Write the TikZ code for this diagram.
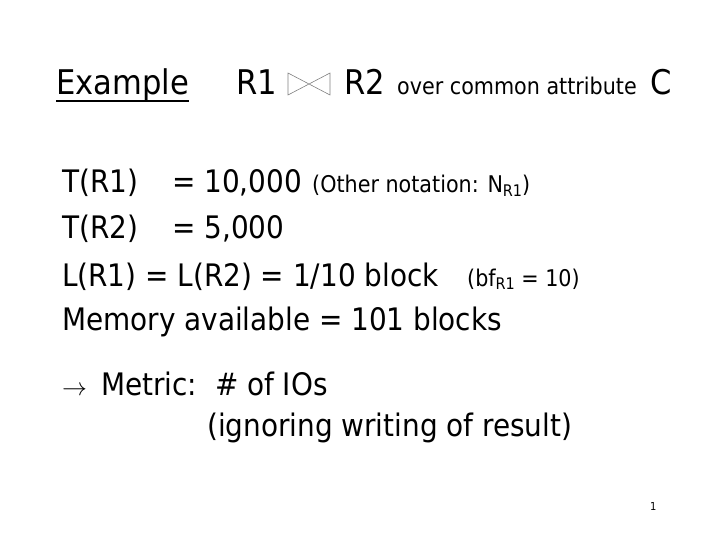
\documentclass[tikz,border=0pt]{standalone}
\usepackage{fontspec}
\setmainfont{DejaVu Sans Condensed}
\usetikzlibrary{calc}
\newcommand{\mysub}[1]{\raisebox{-0.28ex}{\fontsize{16}{16}\selectfont #1}}
\begin{document}
\begin{tikzpicture}[x=1pt,y=-1pt,
  body/.style={anchor=base west,inner sep=0pt,font=\fontsize{31}{31}\selectfont},
  small/.style={anchor=base west,inner sep=0pt,font=\fontsize{23}{23}\selectfont},
  title/.style={anchor=base west,inner sep=0pt,font=\fontsize{34}{34}\selectfont}]
\useasboundingbox (0,0) rectangle (720,540);
\node[title] (ex) at (56,95) {Example};
\draw[line width=1.5pt] ($(ex.base west)+(0,6)$) -- ($(ex.base east)+(0,6)$);
\node[title] (r1) at (236,95) {R1};
\draw[gray,line width=0.6pt] (288,73) -- (288,95) -- (330,73) -- (330,95) -- cycle;
\node[title] (r2) at (344,95) {R2};
\node[small] (over) at (397,95) {over common attribute};
\node[title] (c) at (650,95) {C};
\node[body] (t1) at (62,193) {T(R1)};
\node[body] (t1v) at (172,193) {= 10,000};
\node[small] (t1n) at (312,193) {(Other notation: N\mysub{R1})};
\node[body] (t2) at (62,239) {T(R2)};
\node[body] (t2v) at (172,239) {= 5,000};
\node[body] (l) at (62,286) {L(R1) = L(R2) = 1/10 block};
\node[small] (bf) at (467,286) {(bf\mysub{R1} = 10)};
\node[body] (mem) at (62,330) {Memory available = 101 blocks};
\node[body] (arr) at (62,395) {$\rightarrow$};
\node[body] (met) at (101,395) {Metric:\ \ \# of IOs};
\node[body] (ign) at (207,436) {(ignoring writing of result)};
\node[anchor=base west,inner sep=0pt,font=\fontsize{11}{11}\selectfont] (pg) at (650,510) {1};
\end{tikzpicture}
\end{document}
